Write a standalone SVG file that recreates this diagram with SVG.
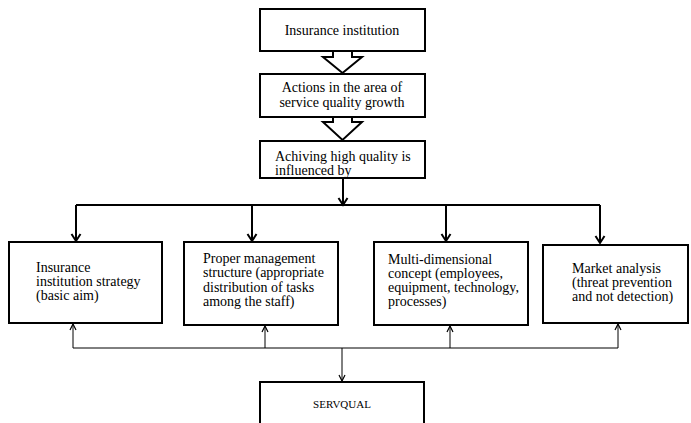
<svg xmlns="http://www.w3.org/2000/svg" width="691" height="423" viewBox="0 0 691 423">
<defs>
<style>
.box{fill:#fff;stroke:#000;stroke-width:2}
.t{font-family:"Liberation Serif","Times New Roman",serif;font-size:14px;fill:#000}
.c{text-anchor:middle}
.thick{fill:none;stroke:#000;stroke-width:2}
.thin{fill:none;stroke:#000;stroke-width:1}
.hollow{fill:#fff;stroke:#000;stroke-width:2;stroke-linejoin:miter}
</style>
<marker id="ah" markerUnits="userSpaceOnUse" markerWidth="10" markerHeight="12" refX="8" refY="6" orient="auto" viewBox="0 0 10 12">
<path d="M1,1.5 L8,6 L1,10.5" fill="none" stroke="#000" stroke-width="2"/>
</marker>
<marker id="as" markerUnits="userSpaceOnUse" markerWidth="8" markerHeight="10" refX="7" refY="5" orient="auto" viewBox="0 0 8 10">
<path d="M1,2 L7,5 L1,8" fill="none" stroke="#000" stroke-width="1.2"/>
</marker>
</defs>
<rect width="691" height="423" fill="#fff"/>

<g id="connectors">
<polygon class="hollow" points="333,50 333,57 323,57 342.5,73 362,57 352,57 352,50"/>
<polygon class="hollow" points="333,116 333,122 323,122 342.5,140 362,122 352,122 352,116"/>
<line class="thick" x1="343" y1="178" x2="343" y2="205" marker-end="url(#ah)"/>
<line class="thick" x1="76" y1="205" x2="600" y2="205"/>
<line class="thick" x1="76" y1="205" x2="76" y2="241" marker-end="url(#ah)"/>
<line class="thick" x1="252" y1="205" x2="252" y2="241" marker-end="url(#ah)"/>
<line class="thick" x1="446" y1="205" x2="446" y2="241" marker-end="url(#ah)"/>
<line class="thick" x1="600" y1="205" x2="600" y2="243" marker-end="url(#ah)"/>
<line class="thin" x1="73" y1="348" x2="618" y2="348"/>
<line class="thin" x1="73" y1="348" x2="73" y2="324" marker-end="url(#as)"/>
<line class="thin" x1="265" y1="348" x2="265" y2="326" marker-end="url(#as)"/>
<line class="thin" x1="450" y1="348" x2="450" y2="326" marker-end="url(#as)"/>
<line class="thin" x1="618" y1="348" x2="618" y2="324" marker-end="url(#as)"/>
<line class="thin" x1="342" y1="348" x2="342" y2="381" marker-end="url(#as)"/>
</g>

<g id="n-insurance">
<rect class="box" x="260" y="9" width="165" height="42"/>
<text class="t c" x="342" y="35">Insurance institution</text>
</g>
<g id="n-actions">
<rect class="box" x="260" y="74" width="165" height="43"/>
<text class="t c" x="342" y="92">Actions in the area of</text>
<text class="t c" x="342" y="107">service quality growth</text>
</g>
<g id="n-achiving">
<rect class="box" x="260" y="141" width="165" height="37"/>
<text class="t" x="275" y="161">Achiving high quality is</text>
<text class="t" x="275" y="175">influenced by</text>
</g>
<g id="n-strategy">
<rect class="box" x="9" y="242" width="153" height="81"/>
<text class="t" x="36" y="272">Insurance</text>
<text class="t" x="36" y="286">institution strategy</text>
<text class="t" x="36" y="300">(basic aim)</text>
</g>
<g id="n-management">
<rect class="box" x="184" y="242" width="154" height="83"/>
<text class="t" x="203" y="263">Proper management</text>
<text class="t" x="203" y="277">structure (appropriate</text>
<text class="t" x="203" y="292">distribution of tasks</text>
<text class="t" x="203" y="306">among the staff)</text>
</g>
<g id="n-multidim">
<rect class="box" x="374" y="242" width="154" height="83"/>
<text class="t" x="388" y="264">Multi-dimensional</text>
<text class="t" x="388" y="278">concept (employees,</text>
<text class="t" x="388" y="292">equipment, technology,</text>
<text class="t" x="388" y="306">processes)</text>
</g>
<g id="n-market">
<rect class="box" x="543" y="245" width="145" height="78"/>
<text class="t" x="572" y="273">Market analysis</text>
<text class="t" x="572" y="287">(threat prevention</text>
<text class="t" x="572" y="301">and not detection)</text>
</g>
<g id="n-servqual">
<rect class="box" x="260" y="382" width="164" height="44"/>
<text class="t c" x="342" y="408" style="font-size:11px">SERVQUAL</text>
</g>
</svg>
